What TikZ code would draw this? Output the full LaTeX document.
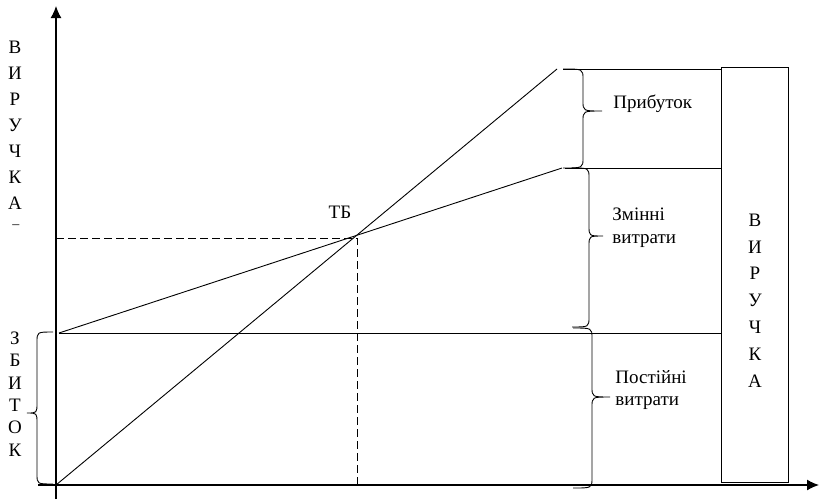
\documentclass[tikz,border=0pt]{standalone}
\usepackage{fontspec}
\setmainfont{Liberation Serif}
\usetikzlibrary{arrows.meta}

\newcommand{\curlybrace}[6]{%
  \draw (#1,#4) .. controls (#2,#4) .. (#2,#4+10) -- (#2,#5-10)
        .. controls (#2,#5) .. (#3,#5) .. controls (#2,#5) .. (#2,#5+10)
        -- (#2,#6-10) .. controls (#2,#6) .. (#1,#6);}

\begin{document}
\begin{tikzpicture}[x=1pt,y=-1pt,line width=0.9pt,
  lbl/.style={font=\fontsize{19}{23}\selectfont,inner sep=0,align=left,anchor=west},
  vtext/.style={font=\fontsize{19}{26}\selectfont,inner sep=0,align=center},
  axis/.style={line width=1.3pt,-{Latex[length=12pt,width=11pt]}}]
\useasboundingbox (0,0) rectangle (819,499);
\coordinate (o)    at (56,485);
\coordinate (ytop) at (56,6);
\coordinate (ybot) at (56,499);
\coordinate (xbeg) at (38,485);
\coordinate (xend) at (819,485);
\coordinate (rev)  at (557,69);
\coordinate (fix)  at (59,333);
\coordinate (var)  at (562,168);
\coordinate (p1)   at (563,69);
\coordinate (v1)   at (565,168);
\coordinate (tb)   at (357,238);
\node (box) [draw,minimum width=67pt,minimum height=415pt,inner sep=0] at (754.5,274.5) {};
\draw[axis] (ybot) -- (ytop);
\draw[axis] (xbeg) -- (xend);
\draw (o) -- (rev);
\draw (fix) -- (var);
\draw (fix) -- (fix -| box.west);
\draw (p1) -- (p1 -| box.west);
\draw (v1) -- (v1 -| box.west);
\draw[dash pattern=on 8pt off 4pt] (tb -| o) -- (tb) -- (tb |- o);
\curlybrace{563}{583}{602}{69}{111}{168}
\curlybrace{572}{589}{603}{168}{236}{327}
\curlybrace{573}{592}{610}{328}{397}{488}
\curlybrace{53}{37}{27}{332}{413}{484}
\node (prof)   [lbl] at (613,104) {Прибуток};
\node (varc)   [lbl] at (612,228) {Змінні\\витрати};
\node (fixc)   [lbl,font=\fontsize{19}{22}\selectfont] at (615,390) {Постійні\\витрати};
\node (tblbl)  [font=\fontsize{19}{19}\selectfont] at (340,212) {ТБ};
\node (vleft)  [vtext] at (15,125) {В\\И\\Р\\У\\Ч\\К\\А};
\node (vdash)  [font=\fontsize{14}{14}\selectfont,inner sep=0] at (16,227) {–};
\node (loss)   [vtext,font=\fontsize{19}{22.4}\selectfont] at (15,394) {З\\Б\\И\\Т\\О\\К};
\node (vright) [vtext,font=\fontsize{19}{26.8}\selectfont] at (755,300.5) {В\\И\\Р\\У\\Ч\\К\\А};
\end{tikzpicture}
\end{document}
